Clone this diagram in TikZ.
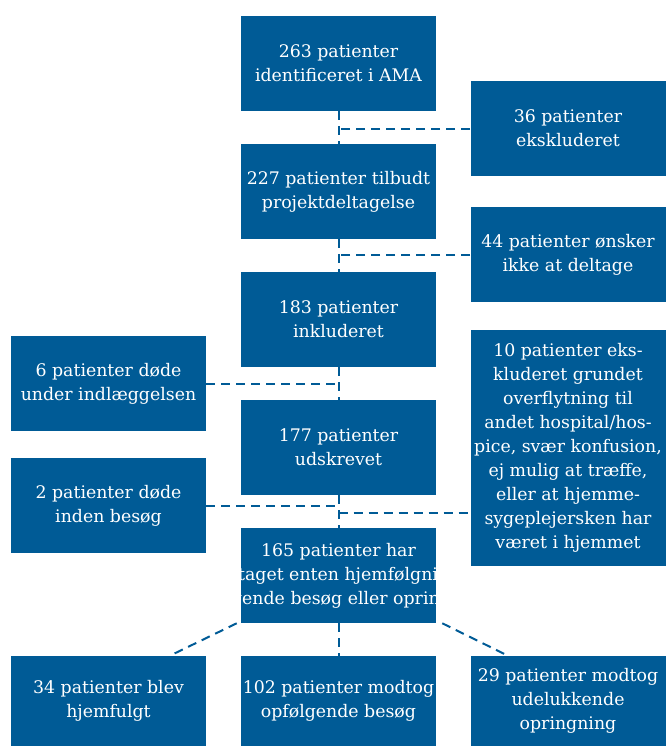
\documentclass[tikz,border=0pt]{standalone}
\usepackage{fontspec}
\setmainfont{DejaVu Serif}
\definecolor{flowblue}{RGB}{0,91,150}

\begin{document}
\begin{tikzpicture}[x=0.75pt,y=-0.75pt,
  boks/.style={fill=flowblue,text=white,align=center,inner sep=0pt,
    minimum width=146.25pt,minimum height=71.25pt,
    font=\fontsize{13}{18}\selectfont},
  lav/.style={minimum height=67.5pt},
  link/.style={draw=flowblue,line width=1.5pt,dash pattern=on 6.75pt off 4.5pt}]
\useasboundingbox (0,0) rectangle (665,746);
\node[boks] (identificeret) at (338.5,63.5) {263 patienter\\identificeret i AMA};
\node[boks] (ekskluderet) at (568,128.5) {36 patienter\\ekskluderet};
\node[boks] (tilbudt) at (338.5,191.5) {227 patienter tilbudt\\projektdeltagelse};
\node[boks] (oensker) at (568,254.5) {44 patienter ønsker\\ikke at deltage};
\node[boks] (inkluderet) at (338.5,319.5) {183 patienter\\inkluderet};
\node[boks] (doedeindl) at (108.5,383.5) {6 patienter døde\\under indlæggelsen};
\node[boks,minimum height=177pt] (eksk10) at (568,448) {10 patienter eks-\\kluderet grundet\\overflytning til\\andet hospital/hos-\\pice, svær konfusion,\\ej mulig at træffe,\\eller at hjemme-\\sygeplejersken har\\været i hjemmet};
\node[boks] (udskrevet) at (338.5,447.5) {177 patienter\\udskrevet};
\node[boks] (doedebesoeg) at (108.5,505.5) {2 patienter døde\\inden besøg};
\node[boks] (deltaget) at (338.5,575.5) {};
\begin{scope}
\clip (deltaget.south west) rectangle (deltaget.north east);
\node[boks,fill=none] at (deltaget.center) {165 patienter har\\deltaget enten hjemfølgning,\\opfølgende besøg eller opringning};
\end{scope}
\node[boks,lav] (hjemfulgt) at (108.5,701) {34 patienter blev\\hjemfulgt};
\node[boks,lav] (besoeg) at (338.5,701) {102 patienter modtog\\opfølgende besøg};
\node[boks,lav] (opringning) at (568,701) {29 patienter modtog\\udelukkende\\opringning};
\coordinate (knaek) at (338.5,513);

\draw[link] (identificeret.south) -- (tilbudt.north);
\draw[link] (ekskluderet.west) -- (ekskluderet.west -| identificeret.south);
\draw[link] (tilbudt.south) -- (inkluderet.north);
\draw[link] (oensker.west) -- (oensker.west -| tilbudt.south);
\draw[link] (inkluderet.south) -- (udskrevet.north);
\draw[link] (doedeindl.east) -- (doedeindl.east -| inkluderet.south);
\draw[link] (udskrevet.south) -- (deltaget.north);
\draw[link] (doedebesoeg.east) -- (doedebesoeg.east -| udskrevet.south);
\draw[link] (knaek) -- (knaek -| eksk10.west);
\draw[link] ([xshift=-3pt]deltaget.south west) -- ([xshift=46pt]hjemfulgt.north);
\draw[link] (deltaget.south) -- (besoeg.north);
\draw[link] ([xshift=4.5pt]deltaget.south east) -- ([xshift=-45pt]opringning.north);
\end{tikzpicture}
\end{document}
